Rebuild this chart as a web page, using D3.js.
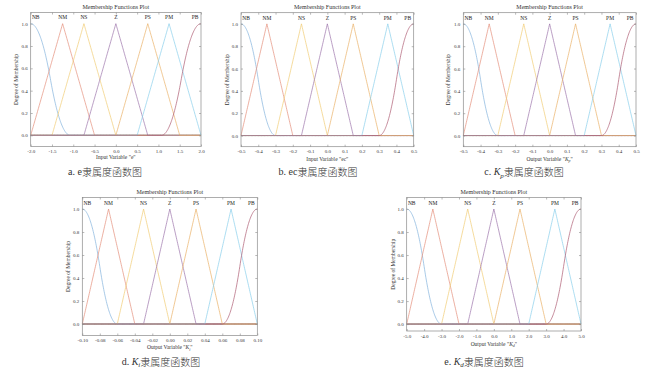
<!DOCTYPE html>
<html><head><meta charset="utf-8">
<script src="https://cdn.jsdelivr.net/npm/d3@7"></script>
<style>body{margin:0;background:#fff}svg{display:block}</style>
</head><body><svg id="c" width="650" height="371"></svg>
<script>
// ---------- data ----------
const mfNames = ["NB", "NM", "NS", "Z", "PS", "PM", "PB"];
const mfTypes = ["zmf", "trimf", "trimf", "trimf", "trimf", "trimf", "smf"];
const yTicks = [0, 0.2, 0.4, 0.6, 0.8, 1.0];

const eDomain = [-2, 2];
const eTicks = [-2, -1.5, -1, -0.5, 0, 0.5, 1, 1.5, 2];
const eParams = [[-2, -1.07], [-2, -1.25, -0.5], [-1.5, -0.75, 0], [-0.75, 0, 0.75], [0, 0.75, 1.5], [0.5, 1.25, 2], [1.07, 2]];

const ecDomain = [-0.5, 0.5];
const ecTicks = [-0.5, -0.4, -0.3, -0.2, -0.1, 0, 0.1, 0.2, 0.3, 0.4, 0.5];
const ecParams = [[-0.5, -0.3], [-0.5, -0.35, -0.2], [-0.3, -0.15, 0], [-0.15, 0, 0.15], [0, 0.15, 0.3], [0.2, 0.35, 0.5], [0.3, 0.5]];

const kpDomain = [-0.5, 0.5];
const kpTicks = [-0.5, -0.4, -0.3, -0.2, -0.1, 0, 0.1, 0.2, 0.3, 0.4, 0.5];
const kpParams = [[-0.5, -0.3], [-0.5, -0.35, -0.2], [-0.3, -0.15, 0], [-0.15, 0, 0.15], [0, 0.15, 0.3], [0.2, 0.35, 0.5], [0.3, 0.5]];

const kiDomain = [-0.1, 0.1];
const kiTicks = [-0.10, -0.08, -0.06, -0.04, -0.02, 0, 0.02, 0.04, 0.06, 0.08, 0.10];
const kiParams = [[-0.1, -0.06], [-0.1, -0.07, -0.04], [-0.06, -0.03, 0], [-0.03, 0, 0.03], [0, 0.03, 0.06], [0.04, 0.07, 0.1], [0.06, 0.1]];

const kdDomain = [-5, 5];
const kdTicks = [-5, -4, -3, -2, -1, 0, 1, 2, 3, 4, 5];
const kdParams = [[-5, -3], [-5, -3.5, -2], [-3, -1.5, 0], [-1.5, 0, 1.5], [0, 1.5, 3], [2, 3.5, 5], [3, 5]];

// ---------- style ----------
const mfColors = ["#84b3dc", "#e48e7a", "#f1cc72", "#9c74aa", "#eab066", "#88cfeb", "#ae5c72"];
const serif = "'Liberation Serif','Times New Roman',serif";
const cjk = "'Noto Sans CJK SC',sans-serif";

function mf(type, p, x) {
  if (type === "trimf") {
    const [a, b, c] = p;
    if (x <= a || x >= c) return 0;
    return x <= b ? (x - a) / (b - a) : (c - x) / (c - b);
  }
  const [a, b] = p;
  let z;
  if (x <= a) z = 1;
  else if (x >= b) z = 0;
  else if (x <= (a + b) / 2) z = 1 - 2 * Math.pow((x - a) / (b - a), 2);
  else z = 2 * Math.pow((x - b) / (b - a), 2);
  return type === "zmf" ? z : 1 - z;
}

const svg = d3.select("#c");

function panel(cfg) {
  const g = svg.append("g");
  const x = d3.scaleLinear().domain(cfg.domain).range([cfg.x0, cfg.x1]);
  const y = d3.scaleLinear().domain([cfg.yMin, 1.1]).range([cfg.y1, cfg.y0]);
  const fmt = v => { const s = v.toFixed(cfg.dec); return s === "-0.0" || s === "-0.00" ? s.slice(1) : s; };

  g.append("text").attr("x", (cfg.x0 + cfg.x1) / 2).attr("y", cfg.titleY)
    .attr("text-anchor", "middle").attr("dominant-baseline", "middle")
    .style("font-family", serif).style("font-size", "6px").attr("fill", "#333")
    .text("Membership Functions Plot");

  g.append("line").attr("x1", cfg.x0).attr("x2", cfg.x1).attr("y1", y(0)).attr("y2", y(0))
    .attr("stroke", "#555").attr("stroke-width", 0.9);

  const line = d3.line().x(d => x(d[0])).y(d => y(d[1]));
  const [d0, d1] = cfg.domain;
  const n = 400;
  cfg.params.forEach((p, i) => {
    const pts = d3.range(n + 1).map(k => { const xv = d0 + (d1 - d0) * k / n; return [xv, mf(mfTypes[i], p, xv)]; });
    if (mfTypes[i] === "trimf") p.forEach((v, j) => pts.push([v, j === 1 ? 1 : 0]));
    pts.sort((a, b) => a[0] - b[0]);
    g.append("path").attr("d", line(pts)).attr("fill", "none")
      .attr("stroke", mfColors[i]).attr("stroke-width", 0.7);
    const peak = mfTypes[i] === "zmf" ? p[0] : p[1];
    const lx = Math.max(cfg.x0 + 5, Math.min(cfg.x1 - 6, x(peak)));
    g.append("text").attr("x", lx).attr("y", y(1.05)).attr("text-anchor", "middle")
      .attr("dominant-baseline", "middle").style("font-family", serif).style("font-size", "5.5px")
      .attr("fill", "#222").text(mfNames[i]);
  });

  g.append("rect").attr("x", cfg.x0).attr("y", cfg.y0).attr("width", cfg.x1 - cfg.x0)
    .attr("height", cfg.y1 - cfg.y0).attr("fill", "none").attr("stroke", "#8a8a8a").attr("stroke-width", 0.7);

  const xb = d3.axisBottom(x).tickValues(cfg.ticks).tickSize(-2).tickPadding(3).tickFormat(fmt);
  const ax = g.append("g").attr("transform", `translate(0,${cfg.y1})`).call(xb);
  const xt = d3.axisTop(x).tickValues(cfg.ticks).tickSize(-2).tickFormat("");
  const ax2 = g.append("g").attr("transform", `translate(0,${cfg.y0})`).call(xt);
  const yl = d3.axisLeft(y).tickValues(yTicks).tickSize(-2).tickPadding(3).tickFormat(v => v.toFixed(1));
  const ay = g.append("g").attr("transform", `translate(${cfg.x0},0)`).call(yl);
  const yr = d3.axisRight(y).tickValues(yTicks).tickSize(-2).tickFormat("");
  const ay2 = g.append("g").attr("transform", `translate(${cfg.x1},0)`).call(yr);
  [ax, ax2, ay, ay2].forEach(a => {
    a.select(".domain").remove();
    a.selectAll(".tick line").attr("stroke", "#8a8a8a").attr("stroke-width", 0.6);
    a.selectAll("text").style("font-family", serif).style("font-size", "5px").attr("fill", "#333");
  });

  const xl = g.append("text").attr("x", (cfg.x0 + cfg.x1) / 2).attr("y", cfg.xlabY)
    .attr("text-anchor", "middle").attr("dominant-baseline", "middle")
    .style("font-family", serif).style("font-size", "5.5px").attr("fill", "#333");
  xl.append("tspan").text(cfg.xlabel[0]);
  if (cfg.xlabel[1]) {
    xl.append("tspan").style("font-style", "italic").text(cfg.xlabel[1]);
    xl.append("tspan").attr("dy", 1.2).style("font-size", "4px").style("font-style", "italic").text(cfg.xlabel[2]);
    xl.append("tspan").attr("dy", -1.2).text("\"");
  }

  g.append("text").attr("transform", `translate(${cfg.ylabX},${(cfg.y0 + cfg.y1) / 2}) rotate(-90)`)
    .attr("text-anchor", "middle").attr("dominant-baseline", "middle")
    .style("font-family", serif).style("font-size", "5.5px").attr("fill", "#333")
    .text("Degree of Membership");

  const cap = g.append("text").attr("x", cfg.capX).attr("y", cfg.capY)
    .attr("text-anchor", "middle").attr("dominant-baseline", "middle").attr("fill", "#333")
    .style("font-size", "10px");
  cap.append("tspan").style("font-family", serif).text(cfg.cap[0]);
  if (cfg.cap[1]) {
    cap.append("tspan").style("font-family", serif).style("font-style", "italic").text(cfg.cap[1]);
    cap.append("tspan").style("font-family", serif).style("font-style", "italic")
      .style("font-size", "7px").attr("dy", 2.5).text(cfg.cap[2]);
    cap.append("tspan").style("font-family", cjk).style("font-weight", 300).attr("dy", -2.5).text(cfg.cap[3]);
  } else {
    cap.append("tspan").style("font-family", cjk).style("font-weight", 300).text(cfg.cap[3]);
  }
}

panel({domain: eDomain, ticks: eTicks, params: eParams, dec: 1, yMin: -0.1,
  x0: 30.7, x1: 201, y0: 12.5, y1: 146.5, titleY: 7.5, xlabY: 157.5, ylabX: 16.7,
  xlabel: ["Input Variable \"e\""], cap: ["a. e", null, null, "隶属度函数图"], capX: 105, capY: 173});
panel({domain: ecDomain, ticks: ecTicks, params: ecParams, dec: 1, yMin: -0.1,
  x0: 241, x1: 413.7, y0: 12.7, y1: 146.7, titleY: 7.5, xlabY: 159.5, ylabX: 227.7,
  xlabel: ["Input Variable \"ec\""], cap: ["b. ec", null, null, "隶属度函数图"], capX: 318, capY: 173});
panel({domain: kpDomain, ticks: kpTicks, params: kpParams, dec: 1, yMin: -0.1,
  x0: 463.3, x1: 636, y0: 12.7, y1: 146.7, titleY: 7.5, xlabY: 160.2, ylabX: 448.3,
  xlabel: ["Output Variable \"", "K", "p"], cap: ["c. ", "K", "p", "隶属度函数图"], capX: 524, capY: 173});
panel({domain: kiDomain, ticks: kiTicks, params: kiParams, dec: 2, yMin: -0.1,
  x0: 82.3, x1: 257.3, y0: 197.5, y1: 335.5, titleY: 192.5, xlabY: 348.3, ylabX: 69,
  xlabel: ["Output Variable \"", "K", "i"], cap: ["d. ", "K", "i", "隶属度函数图"], capX: 161, capY: 362.5});
panel({domain: kdDomain, ticks: kdTicks, params: kdParams, dec: 1, yMin: -0.06,
  x0: 406.7, x1: 581, y0: 197.5, y1: 331, titleY: 192.5, xlabY: 345, ylabX: 393.3,
  xlabel: ["Output Variable \"", "K", "d"], cap: ["e. ", "K", "d", "隶属度函数图"], capX: 484, capY: 362.5});
</script></body></html>
